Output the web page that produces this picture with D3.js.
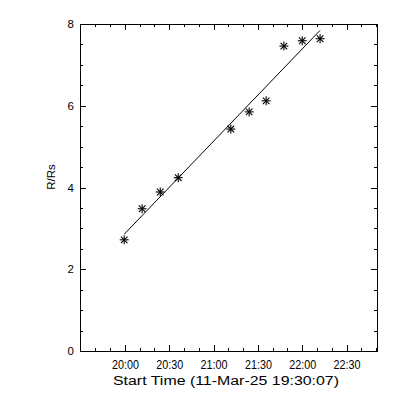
<!DOCTYPE html>
<html>
<head>
<meta charset="utf-8">
<script src="https://cdn.jsdelivr.net/npm/d3@7"></script>
<style>
  html, body { margin: 0; padding: 0; background: #fff; }
  svg { display: block; }
  text { font-family: "Liberation Sans", "DejaVu Sans", sans-serif; fill: #000; }
</style>
</head>
<body>
<svg id="chart" width="400" height="400"></svg>
<script>
// ---- data ----
const times = ["19:59:30","20:11:40","20:23:55","20:36:05","21:11:40","21:24:05","21:35:35","21:47:35","22:00:00","22:12:05"];
const heights = [2.72, 3.48, 3.89, 4.24, 5.43, 5.85, 6.12, 7.46, 7.59, 7.64];
const xTickLabels = ["20:00","20:30","21:00","21:30","22:00","22:30"];
const xMinorLabels = ["19:40","19:50","20:10","20:20","20:40","20:50","21:10","21:20","21:40","21:50","22:10","22:20","22:40","22:50"];
const yTickLabels = ["0","2","4","6","8"];
const yMinorLabels = ["0.5","1","1.5","2.5","3","3.5","4.5","5","5.5","6.5","7","7.5"];
const xRangeLabels = ["19:29:36","22:50:36"];
const xTitle = "Start Time (11-Mar-25 19:30:07)";
const yTitle = "R/Rs";

// ---- helpers ----
const toMin = s => { const p = s.split(":").map(Number); return p[0]*60 + p[1] + (p[2]||0)/60; };
const fmt = m => { const h = Math.floor(m/60), mm = Math.round(m - h*60); return String(h).padStart(2,"0") + ":" + String(mm).padStart(2,"0"); };

const tx = times.map(toMin);
const data = tx.map((t,i) => ({t, v: heights[i]}));

const L = 80, R = 377, T = 24, B = 351;
const svg = d3.select("#chart");

const x = d3.scaleLinear().domain(xRangeLabels.map(toMin)).range([L, R]);
const y = d3.scaleLinear().domain([0, 8]).range([B, T]);

const xMajor = xTickLabels.map(toMin);
const xMinor = xMinorLabels.map(toMin);
const yMajor = yTickLabels.map(Number);
const yMinor = yMinorLabels.map(Number);

function styleAxis(g) {
  g.select(".domain").remove();
  g.selectAll("line").attr("stroke", "#000").attr("shape-rendering", "crispEdges");
}

// bottom major
const gB = svg.append("g").attr("transform", `translate(0,${B})`)
  .call(d3.axisBottom(x).tickValues(xMajor).tickSize(-6).tickPadding(9).tickFormat(fmt));
styleAxis(gB);
gB.selectAll("text").attr("font-size", 12).attr("textLength", 27).attr("lengthAdjust", "spacingAndGlyphs");
svg.append("g").attr("transform", `translate(0,${B})`)
  .call(d3.axisBottom(x).tickValues(xMinor).tickSize(-3).tickFormat("")).call(styleAxis);

// top (ticks only)
svg.append("g").attr("transform", `translate(0,${T})`)
  .call(d3.axisTop(x).tickValues(xMajor).tickSize(-6).tickFormat("")).call(styleAxis);
svg.append("g").attr("transform", `translate(0,${T})`)
  .call(d3.axisTop(x).tickValues(xMinor).tickSize(-3).tickFormat("")).call(styleAxis);

// left major
const gL = svg.append("g").attr("transform", `translate(${L},0)`)
  .call(d3.axisLeft(y).tickValues(yMajor).tickSize(-6).tickPadding(6).tickFormat(d3.format("d")));
styleAxis(gL);
gL.selectAll("text").attr("font-size", 11.5);
svg.append("g").attr("transform", `translate(${L},0)`)
  .call(d3.axisLeft(y).tickValues(yMinor).tickSize(-3).tickFormat("")).call(styleAxis);

// right (ticks only)
svg.append("g").attr("transform", `translate(${R},0)`)
  .call(d3.axisRight(y).tickValues(yMajor).tickSize(-6).tickFormat("")).call(styleAxis);
svg.append("g").attr("transform", `translate(${R},0)`)
  .call(d3.axisRight(y).tickValues(yMinor).tickSize(-3).tickFormat("")).call(styleAxis);

// frame
svg.append("rect").attr("x", L + 0.5).attr("y", T + 0.5).attr("width", R - L).attr("height", B - T)
  .attr("fill", "none").attr("stroke", "#000").attr("shape-rendering", "crispEdges");

// least-squares fit line
const mt = d3.mean(data, d => d.t), mv = d3.mean(data, d => d.v);
const slope = d3.sum(data, d => (d.t - mt) * (d.v - mv)) / d3.sum(data, d => (d.t - mt) ** 2);
const fit = t => mv + slope * (t - mt);
const ext = d3.extent(tx);
svg.append("path")
  .attr("d", d3.line().x(d => x(d)).y(d => y(fit(d)))(ext))
  .attr("fill", "none").attr("stroke", "#000").attr("stroke-width", 1);

// asterisk markers
const s = 4.5, dgl = 3.3;
const star = svg.append("g").selectAll("g").data(data).join("g")
  .attr("transform", d => `translate(${x(d.t)},${y(d.v)})`);
[[-s,0,s,0],[0,-s,0,s],[-dgl,-dgl,dgl,dgl],[-dgl,dgl,dgl,-dgl]].forEach(c => {
  star.append("line").attr("x1", c[0]).attr("y1", c[1]).attr("x2", c[2]).attr("y2", c[3])
    .attr("stroke", "#000").attr("stroke-width", 1.1);
});

// titles
svg.append("text").attr("x", 226).attr("y", 385).attr("text-anchor", "middle")
  .attr("font-size", 12).attr("textLength", 226).attr("lengthAdjust", "spacingAndGlyphs").text(xTitle);
svg.append("text").attr("transform", "translate(55,177) rotate(-90)").attr("text-anchor", "middle")
  .attr("font-size", 11.5).text(yTitle);
</script>
</body>
</html>
